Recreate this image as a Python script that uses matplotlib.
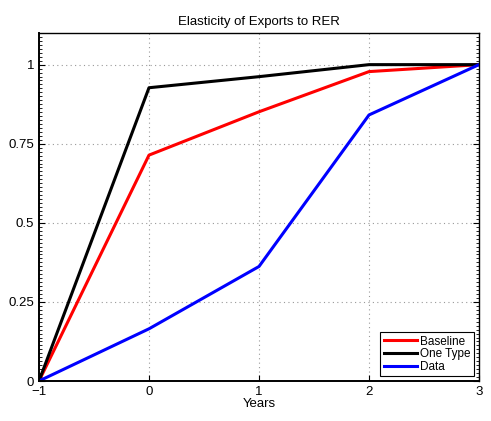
import matplotlib.pyplot as plt
from matplotlib.ticker import MultipleLocator

plt.rcParams["font.family"] = ["Liberation Sans", "DejaVu Sans"]

years = [-1, 0, 1, 2, 3]
baseline = [0.0, 0.714, 0.851, 0.978, 1.0]
one_type = [0.0, 0.927, 0.962, 1.0, 1.0]
data = [0.0, 0.165, 0.362, 0.841, 1.0]

fig = plt.figure(figsize=(4.91, 4.21), dpi=100)
ax = fig.add_axes([0.0794, 0.095, 0.8962, 0.8266])

ax.plot(years, baseline, color="red", lw=2.2, label="Baseline")
ax.plot(years, one_type, color="black", lw=2.2, label="One Type")
ax.plot(years, data, color="blue", lw=2.2, label="Data")

ax.set_xlim(-1, 3)
ax.set_ylim(0, 1.1)
ax.set_xticks([-1, 0, 1, 2, 3])
ax.set_xticklabels(["\u22121", "0", "1", "2", "3"])
ax.set_yticks([0, 0.25, 0.5, 0.75, 1])
ax.set_yticklabels(["0", "0.25", "0.5", "0.75", "1"])
ax.yaxis.set_minor_locator(MultipleLocator(0.0125))
ax.tick_params(which="both", direction="in", right=True, labelsize=9.5)
ax.tick_params(which="major", length=4, width=0.8)
ax.tick_params(which="minor", length=2, width=0.6)
ax.grid(True, which="major", linestyle=(0, (1, 3)), color="#999999", lw=0.8)
for s in ax.spines.values():
    s.set_linewidth(1.0)
ax.spines["left"].set_linewidth(1.4)
ax.spines["bottom"].set_linewidth(1.4)

ax.set_title("Elasticity of Exports to RER", fontsize=9.5)
ax.set_xlabel("Years", fontsize=9.5, labelpad=0)

leg = ax.legend(loc="lower right", fontsize=8.5, fancybox=False, framealpha=1,
                edgecolor="black", borderpad=0.3, labelspacing=0.05,
                handlelength=2.8, handletextpad=0.3, borderaxespad=0.4)
leg.get_frame().set_linewidth(0.8)

fig.savefig("out.png", dpi=100)
